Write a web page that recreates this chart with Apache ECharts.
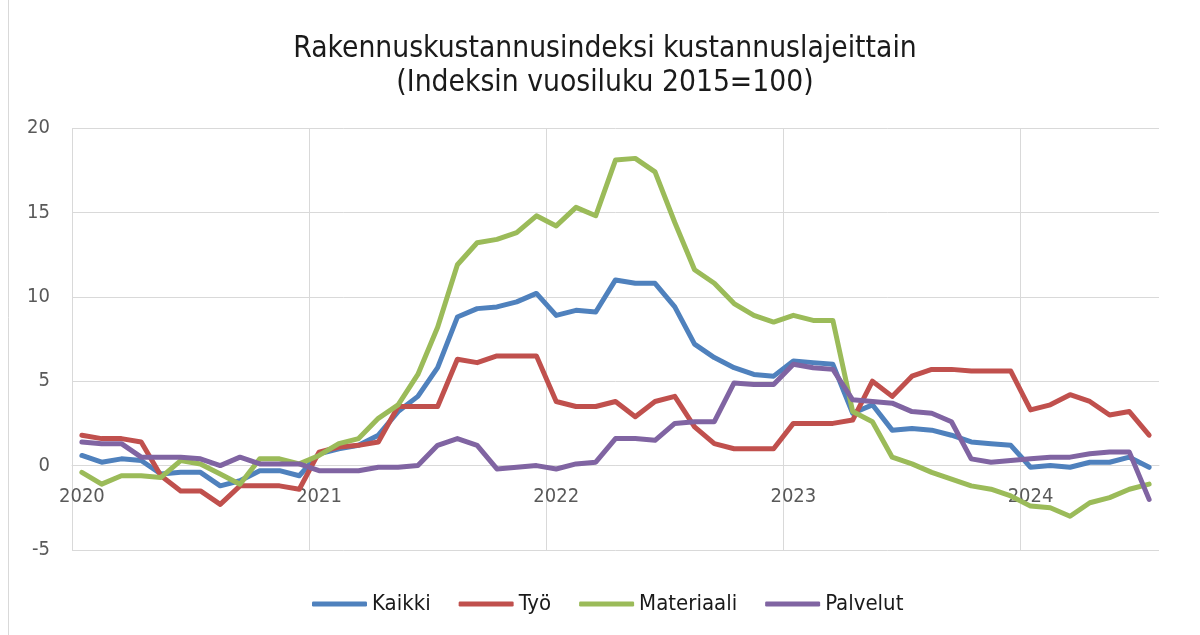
<!DOCTYPE html>
<html>
<head>
<meta charset="utf-8">
<script src="https://cdn.jsdelivr.net/npm/echarts@6/dist/echarts.min.js"></script>
<style>
  html, body { margin: 0; padding: 0; background: #fff; }
  #chart { width: 1200px; height: 635px; }
</style>
</head>
<body>
<div id="chart"></div>
<script>
var years = ['2020', '2021', '2022', '2023', '2024'];
var monthCount = 55; // 2020M01 .. 2024M07

var seriesNames = ['Kaikki', 'Työ', 'Materiaali', 'Palvelut'];
var seriesColors = ['#4f81bd', '#c0504d', '#9bbb59', '#8064a2'];

var kaikki = [
    0.6, 0.2, 0.4, 0.3, -0.5, -0.4, -0.4, -1.2, -0.9, -0.3, -0.3, -0.6,
    0.7, 1.0, 1.2, 1.8, 3.2, 4.1, 5.8, 8.8, 9.3, 9.4, 9.7, 10.2,
    8.9, 9.2, 9.1, 11.0, 10.8, 10.8, 9.4, 7.2, 6.4, 5.8, 5.4, 5.3,
    6.2, 6.1, 6.0, 3.1, 3.6, 2.1, 2.2, 2.1, 1.8, 1.4, 1.3, 1.2,
    -0.1, 0.0, -0.1, 0.2, 0.2, 0.5, -0.1
];
var tyo = [
    1.8, 1.6, 1.6, 1.4, -0.6, -1.5, -1.5, -2.3, -1.2, -1.2, -1.2, -1.4,
    0.8, 1.1, 1.2, 1.4, 3.5, 3.5, 3.5, 6.3, 6.1, 6.5, 6.5, 6.5,
    3.8, 3.5, 3.5, 3.8, 2.9, 3.8, 4.1, 2.3, 1.3, 1.0, 1.0, 1.0,
    2.5, 2.5, 2.5, 2.7, 5.0, 4.1, 5.3, 5.7, 5.7, 5.6, 5.6, 5.6,
    3.3, 3.6, 4.2, 3.8, 3.0, 3.2, 1.8
];
var materiaali = [
    -0.4, -1.1, -0.6, -0.6, -0.7, 0.3, 0.1, -0.5, -1.1, 0.4, 0.4, 0.1,
    0.6, 1.3, 1.6, 2.8, 3.6, 5.4, 8.2, 11.9, 13.2, 13.4, 13.8, 14.8,
    14.2, 15.3, 14.8, 18.1, 18.2, 17.4, 14.4, 11.6, 10.8, 9.6, 8.9, 8.5,
    8.9, 8.6, 8.6, 3.2, 2.6, 0.5, 0.1, -0.4, -0.8, -1.2, -1.4, -1.8,
    -2.4, -2.5, -3.0, -2.2, -1.9, -1.4, -1.1
];
var palvelut = [
    1.4, 1.3, 1.3, 0.5, 0.5, 0.5, 0.4, 0.0, 0.5, 0.1, 0.1, 0.1,
    -0.3, -0.3, -0.3, -0.1, -0.1, 0.0, 1.2, 1.6, 1.2, -0.2, -0.1, 0.0,
    -0.2, 0.1, 0.2, 1.6, 1.6, 1.5, 2.5, 2.6, 2.6, 4.9, 4.8, 4.8,
    6.0, 5.8, 5.7, 3.9, 3.8, 3.7, 3.2, 3.1, 2.6, 0.4, 0.2, 0.3,
    0.4, 0.5, 0.5, 0.7, 0.8, 0.8, -2.0
];

// kuukausikategoriat, vuosiluku näkyy tammikuun kohdalla
var categories = [];
for (var i = 0; i < monthCount; i++) {
    var m = (i % 12) + 1;
    categories.push(years[Math.floor(i / 12)] + 'M' + (m < 10 ? '0' + m : m));
}

var isJanuary = function (index) {
    return index % 12 === 0;
};

var seriesData = [kaikki, tyo, materiaali, palvelut];
var seriesList = [];
for (var s = 0; s < seriesNames.length; s++) {
    seriesList.push({
        name: seriesNames[s],
        type: 'line',
        data: seriesData[s],
        symbol: 'none',
        smooth: false,
        color: seriesColors[s],
        lineStyle: { width: 5, color: seriesColors[s], cap: 'round', join: 'round' }
    });
}

var axisFont = 'DejaVu Sans Condensed, DejaVu Sans, sans-serif';

var gridTop = 128;
var gridBottom = 85;
var yMin = -5;
var yMax = 20;
// x-akseli nollatasolle (Excelin tapaan)
var zeroOffset = -(635 - gridTop - gridBottom) * (0 - yMin) / (yMax - yMin);

var myChart = echarts.init(document.getElementById('chart'));

var option = {
    backgroundColor: '#ffffff',
    animation: false,
    title: {
        text: 'Rakennuskustannusindeksi kustannuslajeittain\n(Indeksin vuosiluku 2015=100)',
        left: 600,
        top: 27,
        textAlign: 'center',
        textStyle: {
            fontFamily: axisFont,
            fontSize: 29.7,
            fontWeight: 'normal',
            color: '#1a1a1a',
            lineHeight: 34
        }
    },
    legend: {
        data: seriesNames,
        bottom: 15,
        left: 307,
        icon: 'roundRect',
        itemWidth: 55,
        itemHeight: 5,
        itemGap: 28,
        textStyle: {
            fontFamily: axisFont,
            fontSize: 22,
            color: '#1a1a1a'
        }
    },
    grid: {
        left: 72,
        right: 41,
        top: gridTop,
        bottom: gridBottom,
        containLabel: false
    },
    xAxis: {
        type: 'category',
        data: categories,
        boundaryGap: true,
        position: 'bottom',
        offset: zeroOffset,
        axisLine: { onZero: false, lineStyle: { color: '#d9d9d9', width: 1 } },
        axisTick: { show: false },
        axisLabel: {
            interval: isJanuary,
            formatter: function (value) {
                return value.substring(0, 4);
            },
            margin: 21,
            fontFamily: axisFont,
            fontSize: 20,
            color: '#595959'
        },
        splitLine: {
            show: true,
            interval: isJanuary,
            showMaxLine: false,
            lineStyle: { color: '#d9d9d9', width: 1 }
        }
    },
    yAxis: {
        type: 'value',
        min: yMin,
        max: yMax,
        interval: 5,
        axisLine: { show: false },
        axisTick: { show: false },
        axisLabel: {
            margin: 22,
            fontFamily: axisFont,
            fontSize: 20,
            color: '#595959'
        },
        splitLine: { lineStyle: { color: '#d9d9d9', width: 1 } }
    },
    graphic: [{
        type: 'line',
        shape: { x1: 8.5, y1: 0, x2: 8.5, y2: 635 },
        style: { stroke: '#d9d9d9', lineWidth: 1 }
    }],
    series: seriesList
};

myChart.setOption(option);
</script>
</body>
</html>
